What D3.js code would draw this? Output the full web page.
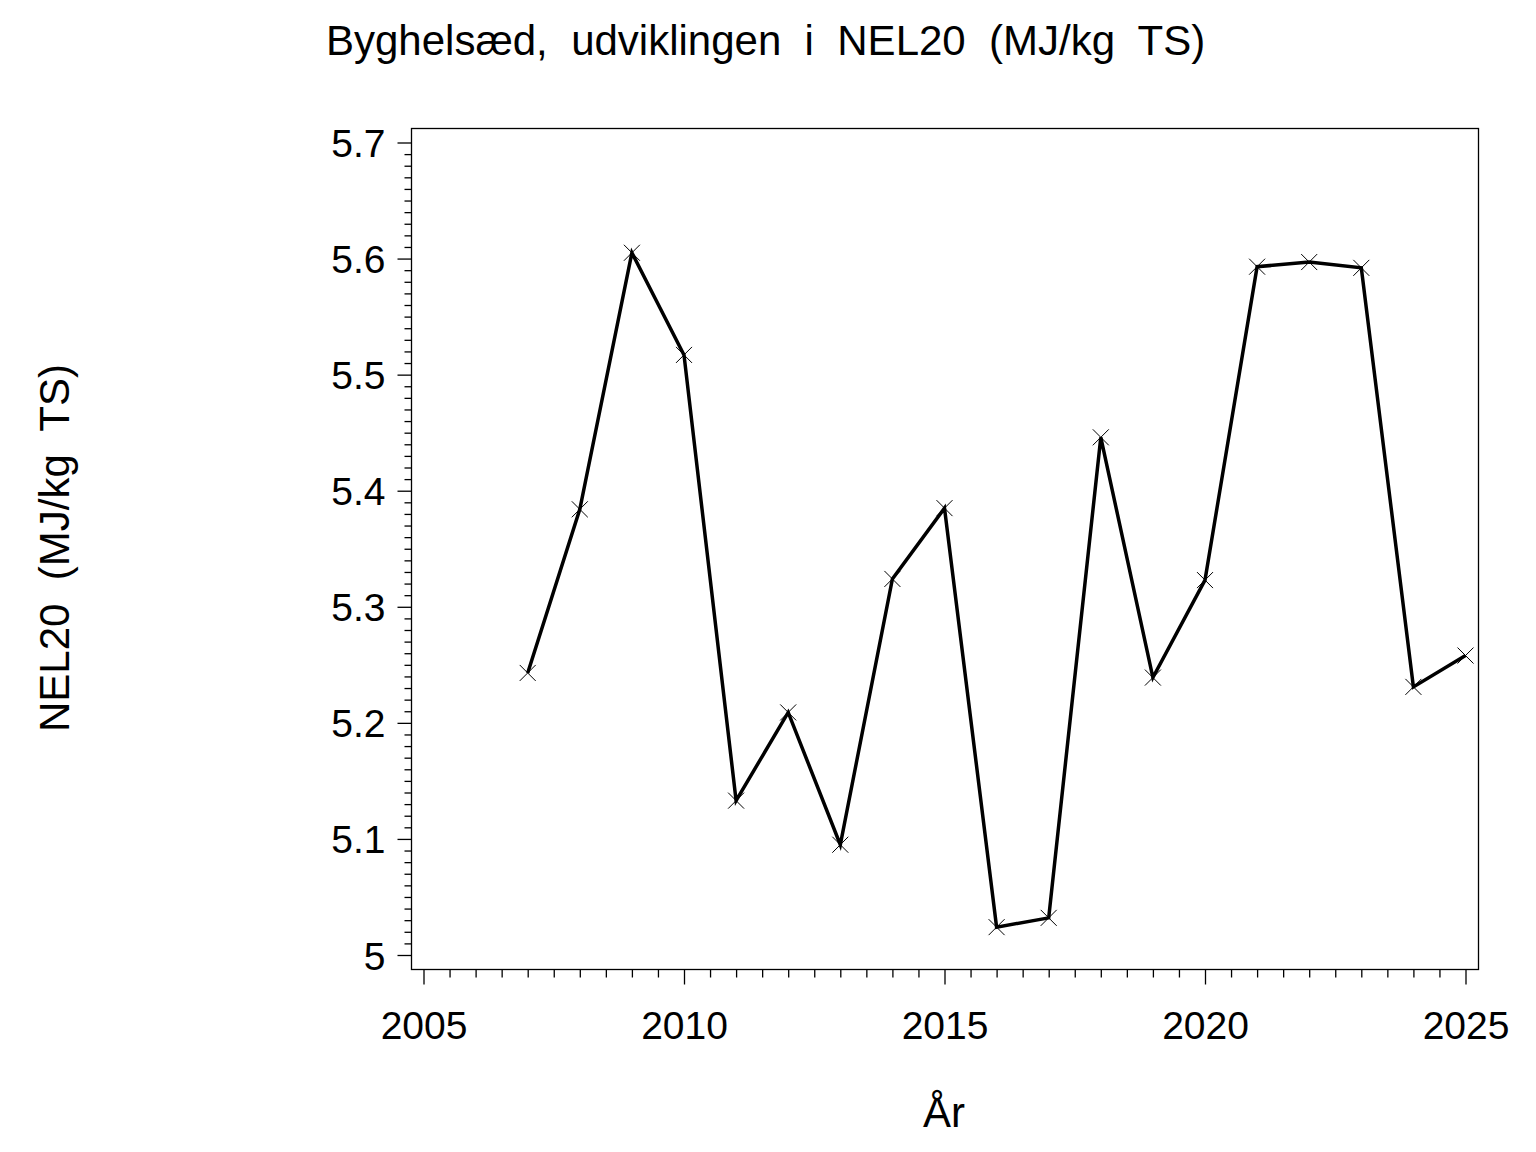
<!DOCTYPE html>
<html>
<head>
<meta charset="utf-8">
<script src="https://cdn.jsdelivr.net/npm/d3@7"></script>
<style>
  html, body { margin: 0; padding: 0; background: #fff; }
  svg { display: block; }
  text { font-family: "Liberation Sans", Arial, sans-serif; fill: #000; white-space: pre; }
</style>
</head>
<body>
<svg id="chart" width="1536" height="1152"></svg>
<script>
const years = [2007, 2008, 2009, 2010, 2011, 2012, 2013, 2014, 2015, 2016, 2017, 2018, 2019, 2020, 2021, 2022, 2023, 2024, 2025];
const nel20 = [5.243, 5.384, 5.605, 5.517, 5.133, 5.209, 5.095, 5.324, 5.385, 5.024, 5.032, 5.446, 5.239, 5.323, 5.593, 5.597, 5.592, 5.231, 5.258];
const yMajorTicks = [5.0, 5.1, 5.2, 5.3, 5.4, 5.5, 5.6, 5.7];
const yTickLabels = ["5", "5.1", "5.2", "5.3", "5.4", "5.5", "5.6", "5.7"];
const xMajorTicks = [2005, 2010, 2015, 2020, 2025];
const titleText = "Byghelsæd,  udviklingen  i  NEL20  (MJ/kg  TS)";
const yLabelText = "NEL20  (MJ/kg  TS)";
const xLabelText = "År";

const svg = d3.select("#chart");

const frame = { left: 411.5, right: 1478.5, top: 128.5, bottom: 969.5 };
const x = d3.scaleLinear().domain([2005, 2025]).range([423.5, 1465.5]);
const y = d3.scaleLinear().domain([5.0, 5.7]).range([955, 142.5]);

// minor tick values
const yMinor = d3.range(0, 71).map(i => +(5.0 + i * 0.01).toFixed(2)).filter(v => !yMajorTicks.some(m => Math.abs(m - v) < 1e-9));
const xMinor = d3.range(0, 41).map(i => 2005 + i * 0.5).filter(v => !xMajorTicks.includes(v));

// frame
svg.append("rect")
  .attr("x", frame.left).attr("y", frame.top)
  .attr("width", frame.right - frame.left).attr("height", frame.bottom - frame.top)
  .attr("fill", "none").attr("stroke", "#000").attr("stroke-width", 1.3);

// Y axis major
const yAxisG = svg.append("g").attr("transform", `translate(${frame.left},0)`)
  .call(d3.axisLeft(y).tickValues(yMajorTicks).tickSize(14).tickPadding(12)
    .tickFormat((d, i) => yTickLabels[i]));
yAxisG.select(".domain").remove();
yAxisG.selectAll("line").attr("stroke", "#000").attr("stroke-width", 1.3);
yAxisG.selectAll("text").attr("font-size", 39).attr("font-family", "Liberation Sans, Arial, sans-serif")
  .attr("dy", "0.36em");

// Y axis minor
const yMinorG = svg.append("g").attr("transform", `translate(${frame.left},0)`)
  .call(d3.axisLeft(y).tickValues(yMinor).tickSize(7).tickFormat(""));
yMinorG.select(".domain").remove();
yMinorG.selectAll("line").attr("stroke", "#000").attr("stroke-width", 1.3);

// X axis major
const xAxisG = svg.append("g").attr("transform", `translate(0,${frame.bottom})`)
  .call(d3.axisBottom(x).tickValues(xMajorTicks).tickSize(15).tickPadding(27).tickFormat(d3.format("d")));
xAxisG.select(".domain").remove();
xAxisG.selectAll("line").attr("stroke", "#000").attr("stroke-width", 1.3);
xAxisG.selectAll("text").attr("font-size", 39).attr("font-family", "Liberation Sans, Arial, sans-serif")
  .attr("dy", "0.71em");

// X axis minor
const xMinorG = svg.append("g").attr("transform", `translate(0,${frame.bottom})`)
  .call(d3.axisBottom(x).tickValues(xMinor).tickSize(8).tickFormat(""));
xMinorG.select(".domain").remove();
xMinorG.selectAll("line").attr("stroke", "#000").attr("stroke-width", 1.3);

// line
const line = d3.line().x((d, i) => x(years[i])).y(d => y(d));
svg.append("path").datum(nel20)
  .attr("d", line)
  .attr("fill", "none").attr("stroke", "#000").attr("stroke-width", 3.5)
  .attr("stroke-linejoin", "miter");

// markers (x crosses)
const s = 8;
svg.append("g").selectAll("path.mk").data(nel20).join("path")
  .attr("class", "mk")
  .attr("d", (d, i) => {
    const cx = x(years[i]), cy = y(d);
    return `M${cx - s},${cy - s}L${cx + s},${cy + s}M${cx - s},${cy + s}L${cx + s},${cy - s}`;
  })
  .attr("stroke", "#000").attr("stroke-width", 1).attr("fill", "none");

// title
svg.append("text").attr("x", 326).attr("y", 55)
  .attr("font-size", 42).attr("text-anchor", "start").text(titleText);

// y label
svg.append("text").attr("transform", "translate(69,548) rotate(-90)")
  .attr("font-size", 42).attr("text-anchor", "middle").text(yLabelText);

// x label
svg.append("text").attr("x", 944).attr("y", 1127)
  .attr("font-size", 42).attr("text-anchor", "middle").text(xLabelText);
</script>
</body>
</html>
